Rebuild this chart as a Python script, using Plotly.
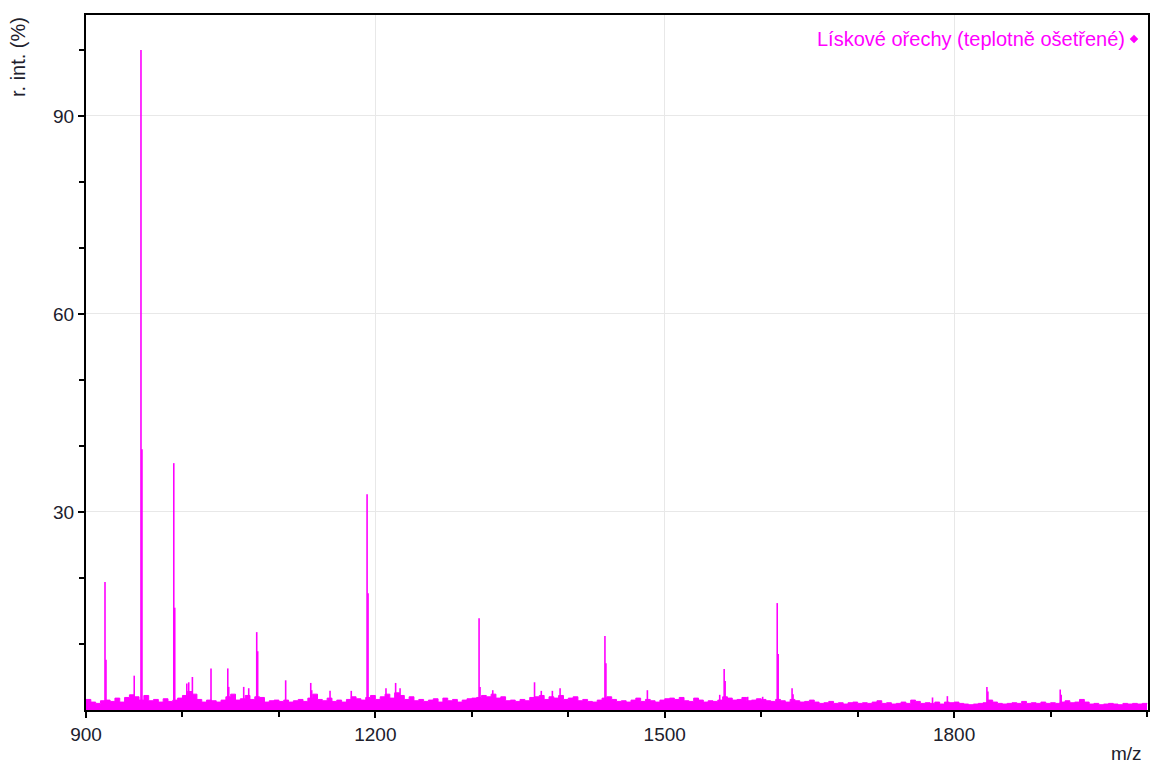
import plotly.graph_objects as go

# Baseline (noise) level read every 5 m/z from 900 to 2000
base_start = 900
base_step = 5
baseline = [
    1.6, 1.2, 1.0, 1.4, 1.5, 1.3, 1.8, 1.2, 1.9, 2.3, 2.0, 1.5, 2.2, 1.4, 1.6, 1.2, 1.7, 1.3, 1.5, 1.8, 2.2,
    2.8, 2.4, 1.6, 1.2, 1.5, 1.4, 1.2, 1.5, 2.0, 2.4, 1.5, 1.7, 2.2, 1.6, 2.0, 1.9, 1.2, 1.4, 1.5, 1.3,
    1.5, 1.2, 1.4, 1.6, 1.3, 1.8, 2.4, 1.6, 1.4, 1.8, 1.3, 1.5, 1.2, 1.6, 2.0, 1.7, 1.5, 1.9, 2.2, 1.6,
    2.0, 2.4, 1.8, 2.6, 2.2, 1.6, 2.0, 1.4, 1.6, 1.3, 1.5, 1.7, 1.2, 1.8, 1.4, 1.6, 1.2, 1.5, 1.7, 1.8,
    1.9, 2.2, 2.0, 2.4, 1.8, 2.0, 1.4, 1.5, 1.3, 1.6, 1.4, 1.9, 2.0, 2.2, 1.6, 2.0, 1.8, 2.2, 1.6, 1.8,
    2.0, 1.4, 1.6, 1.3, 1.2, 1.5, 1.8, 2.0, 1.6, 1.3, 1.4, 1.2, 1.5, 1.8, 1.3, 1.6, 1.4, 1.2, 1.5, 1.7,
    1.8, 1.6, 1.9, 1.4, 1.3, 1.8, 1.5, 1.2, 1.4, 1.3, 1.5, 2.0, 1.8, 1.5, 1.6, 1.9, 1.4, 1.5, 1.7, 1.6,
    1.4, 1.3, 1.6, 1.4, 1.2, 1.6, 1.4, 1.2, 1.3, 1.5, 1.2, 1.0, 1.1, 1.3, 1.0, 1.1, 0.9, 1.1, 1.2, 1.0,
    1.1, 1.0, 1.2, 1.4, 1.0, 1.1, 0.9, 1.0, 1.2, 1.0, 1.5, 1.3, 1.0, 1.1, 1.0, 1.2, 0.9, 1.2, 1.1, 1.2,
    1.0, 0.9, 0.8, 0.9, 1.0, 1.1, 1.5, 1.2, 1.0, 0.9, 1.0, 1.1, 1.0, 1.3, 1.0, 1.1, 1.0, 1.2, 1.0, 1.1,
    1.0, 1.2, 1.4, 1.1, 1.2, 1.6, 1.2, 0.9, 1.0, 0.8, 0.9, 1.0, 0.9, 0.8, 1.0, 0.9, 1.0, 0.9, 1.0, 0.9,
]
base_mz = [base_start + i * base_step for i in range(len(baseline))]

# Peaks (m/z, relative intensity %)
peak_mz = [
    919.7, 920.7, 950.0, 957.0, 958.0, 991.0, 992.0, 1004.5, 1006.5, 1010.3,
    1029.6, 1047.0, 1048.0, 1063.5, 1068.7, 1077.0, 1078.0, 1107.0, 1133.0, 1134.0,
    1153.0, 1175.0, 1191.4, 1192.4, 1211.0, 1221.0, 1225.6, 1307.5, 1308.5, 1321.7,
    1365.0, 1372.0, 1383.5, 1391.5, 1438.0, 1439.0, 1482.0, 1557.0, 1561.6, 1562.6,
    1586.0, 1601.5, 1616.6, 1617.6, 1632.0, 1633.0, 1777.6, 1793.0, 1834.0, 1835.0,
    1910.0, 1911.0,
]
peak_int = [
    19.4, 7.6, 5.2, 100.0, 39.5, 37.4, 15.5, 4.0, 4.2, 5.0,
    6.3, 6.3, 3.5, 3.5, 3.3, 11.8, 8.9, 4.5, 4.1, 3.0,
    2.9, 2.9, 32.7, 17.7, 3.3, 4.1, 3.3, 13.9, 3.5, 3.0,
    4.2, 2.9, 2.9, 3.3, 11.2, 7.1, 3.0, 2.3, 6.2, 4.4,
    2.0, 2.0, 16.2, 8.5, 3.3, 2.4, 1.9, 2.1, 3.5, 2.8,
    3.1, 2.3,
]

series_name = "Lískové ořechy (teplotně ošetřené)"
color = "#ff00ff"

x_labels = [900, 1200, 1500, 1800]
y_labels = [30, 60, 90]

# stick representation of peaks
stick_x, stick_y = [], []
for m, h in zip(peak_mz, peak_int):
    stick_x += [m, m, None]
    stick_y += [0, h, None]

fig = go.Figure()
fig.add_trace(go.Scatter(
    x=base_mz, y=baseline, mode="lines", line=dict(color=color, width=1, shape="hv"),
    fill="tozeroy", fillcolor=color, showlegend=False, hoverinfo="skip"))
fig.add_trace(go.Scatter(
    x=stick_x, y=stick_y, mode="lines", line=dict(color=color, width=1.6),
    showlegend=False, name=series_name))

font = "Liberation Sans, Arial, sans-serif"
txt = "#20202c"
fig.update_layout(
    width=1152, height=769,
    margin=dict(l=86, r=4, t=15, b=59, autoexpand=False),
    paper_bgcolor="white", plot_bgcolor="white",
    font=dict(family=font, size=19, color=txt),
    showlegend=False,
)
fig.update_xaxes(
    range=[900, 2001], tickvals=x_labels, ticktext=[str(v) for v in x_labels],
    ticks="outside", ticklen=6, tickwidth=2, tickcolor="black", automargin=False,
    showgrid=True, gridcolor="#e8e8e8", gridwidth=1, zeroline=False,
    showline=True, linecolor="black", linewidth=2, mirror=True,
    minor=dict(tickvals=list(range(1000, 2001, 100)), ticks="outside", ticklen=5,
               tickwidth=2, tickcolor="black", showgrid=False),
    tickfont=dict(size=19, color=txt),
)
fig.update_yaxes(
    range=[0, 105.3], tickvals=y_labels, ticktext=[str(v) for v in y_labels],
    ticks="outside", ticklen=6, tickwidth=2, tickcolor="black", automargin=False,
    showgrid=True, gridcolor="#e8e8e8", gridwidth=1, zeroline=False,
    showline=True, linecolor="black", linewidth=2, mirror=True,
    minor=dict(tickvals=[10, 20, 40, 50, 70, 80, 100], ticks="outside", ticklen=5,
               tickwidth=2, tickcolor="black", showgrid=False),
    tickfont=dict(size=19, color=txt),
)

fig.add_annotation(text="r. int. (%)", textangle=-90, xref="paper", yref="paper",
                   x=-0.064, y=1.0, xanchor="center", yanchor="top", showarrow=False,
                   font=dict(family=font, size=20, color=txt))
fig.add_annotation(text="m/z", xref="paper", yref="paper",
                   x=0.996, y=-0.081, xanchor="right", yanchor="bottom", showarrow=False,
                   font=dict(family=font, size=19, color=txt))
fig.add_annotation(text=series_name, xref="paper", yref="paper",
                   x=0.9802, y=0.9655, xanchor="right", yanchor="middle", showarrow=False,
                   font=dict(family=font, size=20, color=color))
# legend marker (diamond) drawn to the right of the legend text
fig.add_shape(type="path", xref="paper", yref="paper",
              path="M 0.9868 0.9714 L 0.9906 0.9655 L 0.9868 0.9596 L 0.9830 0.9655 Z",
              fillcolor=color, line=dict(color=color, width=0.5))

fig.write_html(
    "out.html",
    config={"displayModeBar": False},
    post_script="document.body.style.margin='0';document.body.style.padding='0';"
                "document.body.style.overflow='hidden';",
)
